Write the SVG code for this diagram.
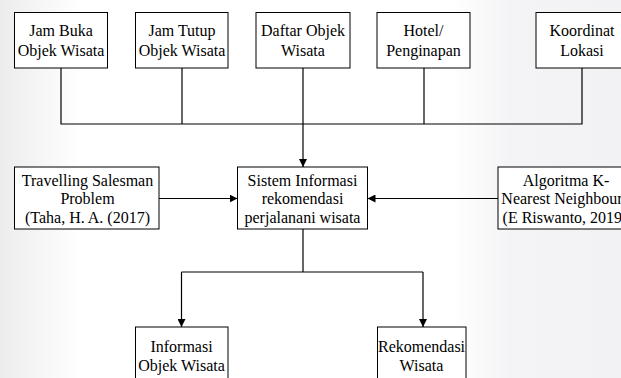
<svg xmlns="http://www.w3.org/2000/svg" width="621" height="378" viewBox="0 0 621 378">
<defs>
<style>
.box{fill:#fff;stroke:#000;stroke-width:1}
.t{font-family:"Liberation Serif","Times New Roman",serif;font-size:16px;fill:#000;text-anchor:middle}
.c{fill:none;stroke:#000;stroke-width:1.2}
</style>
<marker id="ah" viewBox="0 0 10 10" refX="10" refY="5" markerWidth="8" markerHeight="8" markerUnits="userSpaceOnUse" orient="auto">
<path d="M0,0 L10,5 L0,10 Z" fill="#000"/>
</marker>
<linearGradient id="gl" x1="0" y1="0" x2="1" y2="0">
<stop offset="0" stop-color="#ececec"/>
<stop offset="1" stop-color="#fff"/>
</linearGradient>
<linearGradient id="gr" x1="0" y1="0" x2="1" y2="0">
<stop offset="0" stop-color="#fff"/>
<stop offset="0.35" stop-color="#f4f4f6"/>
<stop offset="1" stop-color="#f2f2f4"/>
</linearGradient>
</defs>
<rect width="621" height="378" fill="#fff"/>
<rect x="0" y="0" width="80" height="378" fill="url(#gl)"/>
<rect x="450" y="0" width="171" height="378" fill="url(#gr)"/>

<g id="connectors">
<polyline class="c" points="61,68 61,124 582,124 582,68"/>
<line class="c" x1="182" y1="68" x2="182" y2="124"/>
<line class="c" x1="424" y1="68" x2="424" y2="124"/>
<line class="c" x1="303" y1="68" x2="303" y2="167" marker-end="url(#ah)"/>
<line class="c" x1="159" y1="198.5" x2="237.5" y2="198.5" marker-end="url(#ah)"/>
<line class="c" x1="498" y1="198.5" x2="367.5" y2="198.5" marker-end="url(#ah)"/>
<line class="c" x1="303" y1="229" x2="303" y2="272"/>
<line class="c" x1="181.5" y1="272" x2="423" y2="272"/>
<line class="c" x1="181.5" y1="272" x2="181.5" y2="327" marker-end="url(#ah)"/>
<line class="c" x1="423" y1="272" x2="423" y2="327" marker-end="url(#ah)"/>
</g>

<g id="jam-buka">
<rect class="box" x="14.5" y="12.5" width="93" height="55.5"/>
<text class="t" x="61" y="36">Jam Buka</text>
<text class="t" x="61" y="55.5">Objek Wisata</text>
</g>
<g id="jam-tutup">
<rect class="box" x="135.5" y="12.5" width="92.5" height="55.5"/>
<text class="t" x="182" y="36">Jam Tutup</text>
<text class="t" x="182" y="55.5">Objek Wisata</text>
</g>
<g id="daftar-objek">
<rect class="box" x="256" y="12.5" width="94" height="55.5"/>
<text class="t" x="303" y="36">Daftar Objek</text>
<text class="t" x="303" y="55.5">Wisata</text>
</g>
<g id="hotel">
<rect class="box" x="377" y="12.5" width="93" height="55.5"/>
<text class="t" x="423.5" y="36">Hotel/</text>
<text class="t" x="423.5" y="55.5">Penginapan</text>
</g>
<g id="koordinat">
<rect class="box" x="536" y="12.5" width="94" height="55.5"/>
<text class="t" x="582" y="36">Koordinat</text>
<text class="t" x="582" y="55.5">Lokasi</text>
</g>

<g id="tsp">
<rect class="box" x="14.5" y="167" width="144.5" height="62"/>
<text class="t" x="87.5" y="185.5">Travelling Salesman</text>
<text class="t" x="87.5" y="204">Problem</text>
<text class="t" x="87.5" y="222.5">(Taha, H. A. (2017)</text>
</g>
<g id="sistem">
<rect class="box" x="237.5" y="167" width="130" height="62"/>
<text class="t" x="302.5" y="185.5">Sistem Informasi</text>
<text class="t" x="302.5" y="204">rekomendasi</text>
<text class="t" x="302.5" y="222.5">perjalanani wisata</text>
</g>
<g id="knn">
<rect class="box" x="498" y="167" width="140" height="62"/>
<text class="t" x="566" y="185.5">Algoritma K-</text>
<text class="t" x="562" y="204">Nearest Neighbour</text>
<text class="t" x="565" y="222.5">(E Riswanto, 2019)</text>
</g>

<g id="informasi">
<rect class="box" x="135.5" y="327" width="92.5" height="60"/>
<text class="t" x="181.5" y="352">Informasi</text>
<text class="t" x="181.5" y="371">Objek Wisata</text>
</g>
<g id="rekomendasi">
<rect class="box" x="377.5" y="327" width="88.5" height="60"/>
<text class="t" x="421.5" y="352">Rekomendasi</text>
<text class="t" x="421.5" y="371">Wisata</text>
</g>
</svg>
